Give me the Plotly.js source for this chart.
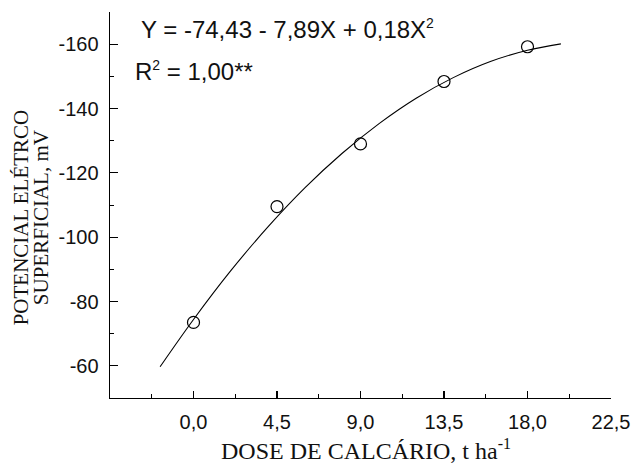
<!DOCTYPE html>
<html>
<head>
<meta charset="utf-8">
<script src="https://cdn.plot.ly/plotly-3.0.1.min.js"></script>
<style>html,body{margin:0;padding:0;background:#fff;}#chart{width:632px;height:463px;}</style>
</head>
<body>
<div id="chart"></div>
<script>
// Observed points
var doses = [0, 4.5, 9, 13.5, 18];
var potential = [-73.5, -109.5, -129.0, -148.4, -159.2];

// Fitted curve
var fitX = [-1.8, 0, 2, 4, 6, 8, 10, 12, 14, 16, 18, 19.8];
var fitY = [-59.7, -74.4, -89.5, -103.1, -115.3, -126.0, -135.3, -143.2, -149.6, -154.6, -158.1, -160.1];

// Tick labels
var xTickVals = [0, 4.5, 9, 13.5, 18, 22.5];
var xTickText = ["0,0", "4,5", "9,0", "13,5", "18,0", "22,5"];
var yTickVals = [-60, -80, -100, -120, -140, -160];
var yTickText = ["-60", "-80", "-100", "-120", "-140", "-160"];

var traces = [
  {
    x: fitX, y: fitY, type: 'scatter', mode: 'lines',
    line: {color: '#000', width: 1.1, shape: 'spline'},
    hoverinfo: 'skip', showlegend: false
  },
  {
    x: doses, y: potential, type: 'scatter', mode: 'markers',
    marker: {symbol: 'circle-open', size: 12, color: '#000', line: {color: '#000', width: 1.2}},
    showlegend: false
  }
];

var sans = 'Liberation Sans, Arial, sans-serif';
var serif = 'Liberation Serif, Times New Roman, serif';

var layout = {
  width: 632, height: 463,
  margin: {l: 110, r: 21, t: 12, b: 65},
  paper_bgcolor: '#fff', plot_bgcolor: '#fff',
  showlegend: false,
  xaxis: {
    range: [-4.5, 22.5],
    tickmode: 'array', tickvals: xTickVals, ticktext: xTickText,
    ticks: 'inside', ticklen: 7, tickwidth: 1.2, tickcolor: '#000',
    minor: {tickmode: 'linear', tick0: -2.25, dtick: 2.25, ticks: 'inside', ticklen: 4, tickwidth: 1, tickcolor: '#000'},
    showline: true, linecolor: '#000', linewidth: 1.4,
    showgrid: false, zeroline: false,
    tickfont: {family: sans, size: 20, color: '#111'},
    ticklabelstandoff: 6
  },
  yaxis: {
    range: [-50, -170],
    tickmode: 'array', tickvals: yTickVals, ticktext: yTickText,
    ticks: 'inside', ticklen: 8, tickwidth: 1.2, tickcolor: '#000',
    minor: {tickmode: 'linear', tick0: -50, dtick: 10, ticks: 'inside', ticklen: 4, tickwidth: 1, tickcolor: '#000'},
    showline: true, linecolor: '#000', linewidth: 1.4,
    showgrid: false, zeroline: false,
    tickfont: {family: sans, size: 20, color: '#111'},
    ticklabelstandoff: 6
  },
  annotations: [
    {
      xref: 'paper', yref: 'paper', x: 0.058, y: 0.955, xanchor: 'left', yanchor: 'middle',
      text: 'Y = -74,43 - 7,89X + 0,18X<sup><span style="font-size:14px">2</span></sup>', showarrow: false,
      font: {family: sans, size: 24, color: '#111'}
    },
    {
      xref: 'paper', yref: 'paper', x: 0.046, y: 0.846, xanchor: 'left', yanchor: 'middle',
      text: 'R<sup><span style="font-size:14px">2</span></sup> = 1,00**', showarrow: false,
      font: {family: sans, size: 24, color: '#111'}
    },
    {
      xref: 'paper', yref: 'paper', x: 0.511, y: -0.1347, xanchor: 'center', yanchor: 'middle',
      text: 'DOSE DE CALCÁRIO, t ha<sup><span style="font-size:16px">-1</span></sup>', showarrow: false,
      font: {family: serif, size: 24, color: '#111'}
    },
    {
      xref: 'paper', yref: 'paper', x: -0.1776, y: 0.468, xanchor: 'center', yanchor: 'middle',
      text: 'POTENCIAL ELÉTRCO', textangle: -90, showarrow: false,
      font: {family: serif, size: 21, color: '#111'}
    },
    {
      xref: 'paper', yref: 'paper', x: -0.1377, y: 0.466, xanchor: 'center', yanchor: 'middle',
      text: 'SUPERFICIAL, mV', textangle: -90, showarrow: false,
      font: {family: serif, size: 21, color: '#111'}
    }
  ]
};

Plotly.newPlot('chart', traces, layout, {displayModeBar: false, staticPlot: true});
</script>
</body>
</html>
